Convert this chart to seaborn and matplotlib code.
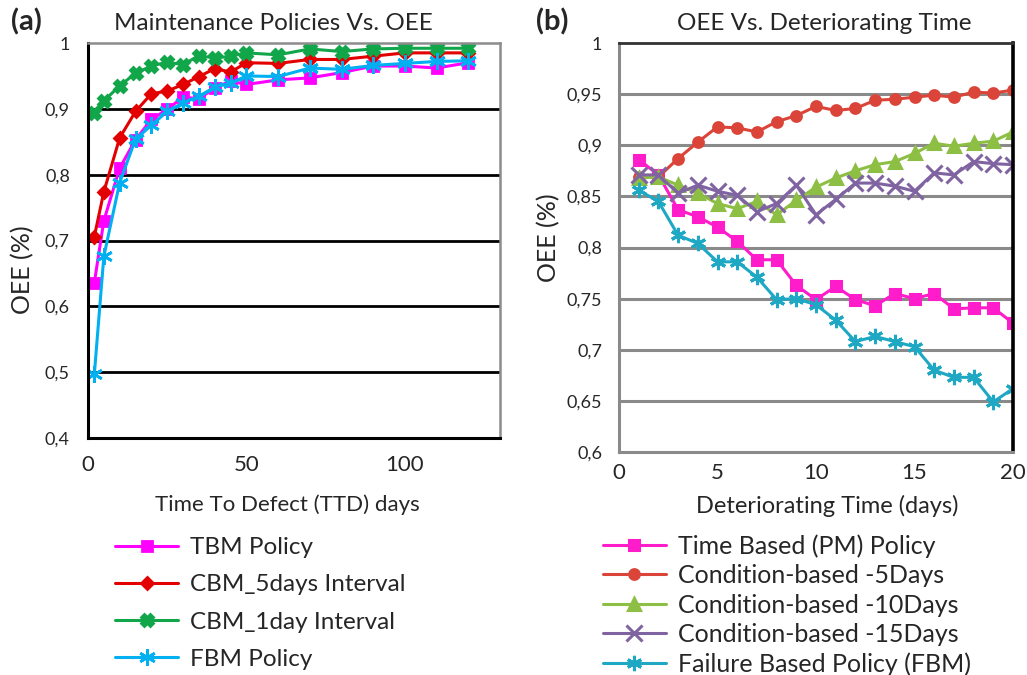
import matplotlib
matplotlib.use("Agg")
import matplotlib.pyplot as plt
import seaborn as sns
import pandas as pd

# ---------------- data ----------------
ttd_days = [2, 5, 10, 15, 20, 25, 30, 35, 40, 45, 50, 60, 70, 80, 90, 100, 110, 120]
tbm_policy = [0.636, 0.730, 0.810, 0.853, 0.884, 0.899, 0.918, 0.915, 0.932, 0.942,
              0.937, 0.944, 0.947, 0.955, 0.965, 0.965, 0.962, 0.970]
cbm_5days = [0.706, 0.774, 0.856, 0.896, 0.923, 0.927, 0.937, 0.949, 0.961, 0.956,
             0.970, 0.969, 0.975, 0.975, 0.980, 0.985, 0.985, 0.985]
cbm_1day = [0.894, 0.912, 0.935, 0.954, 0.965, 0.971, 0.967, 0.981, 0.977, 0.980,
            0.985, 0.982, 0.991, 0.987, 0.991, 0.992, 0.992, 0.992]
fbm_policy = [0.497, 0.676, 0.788, 0.854, 0.875, 0.896, 0.909, 0.919, 0.933, 0.939,
              0.950, 0.949, 0.962, 0.960, 0.966, 0.969, 0.972, 0.973]

det_days = list(range(1, 21))
time_based = [0.886, 0.871, 0.837, 0.830, 0.820, 0.806, 0.788, 0.788, 0.763, 0.749,
              0.762, 0.749, 0.743, 0.755, 0.750, 0.755, 0.740, 0.741, 0.741, 0.726]
cond_5 = [0.869, 0.869, 0.887, 0.903, 0.918, 0.917, 0.913, 0.923, 0.929, 0.938,
          0.934, 0.936, 0.944, 0.945, 0.947, 0.949, 0.947, 0.952, 0.951, 0.954]
cond_10 = [0.868, 0.869, 0.861, 0.853, 0.843, 0.838, 0.845, 0.832, 0.846, 0.859,
           0.868, 0.875, 0.881, 0.884, 0.892, 0.902, 0.899, 0.902, 0.904, 0.913]
cond_15 = [0.871, 0.871, 0.853, 0.861, 0.855, 0.851, 0.835, 0.843, 0.861, 0.832,
           0.847, 0.863, 0.863, 0.860, 0.855, 0.873, 0.871, 0.884, 0.882, 0.881]
failure_based = [0.856, 0.845, 0.812, 0.804, 0.786, 0.786, 0.771, 0.749, 0.750, 0.744,
                 0.729, 0.708, 0.713, 0.708, 0.703, 0.680, 0.673, 0.673, 0.649, 0.662]

left_labels = ["TBM Policy", "CBM_5days Interval", "CBM_1day Interval", "FBM Policy"]
right_labels = ["Time Based (PM) Policy", "Condition-based -5Days", "Condition-based -10Days",
                "Condition-based -15Days", "Failure Based Policy (FBM)"]
left_yticks = [0.4, 0.5, 0.6, 0.7, 0.8, 0.9, 1.0]
left_yticklabels = ["0,4", "0,5", "0,6", "0,7", "0,8", "0,9", "1"]
right_yticks = [0.6, 0.65, 0.7, 0.75, 0.8, 0.85, 0.9, 0.95, 1.0]
right_yticklabels = ["0,6", "0,65", "0,7", "0,75", "0,8", "0,85", "0,9", "0,95", "1"]

# ---------------- style ----------------
sns.set_style("white")
plt.rcParams["font.family"] = ["Lato", "DejaVu Sans"]

W, H = 1027, 675
fig = plt.figure(figsize=(W / 100, H / 100), dpi=100)
axL = fig.add_axes([88 / W, 1 - 438 / H, 412 / W, 395 / H])
axR = fig.add_axes([619 / W, 1 - 452 / H, 394 / W, 409 / H])

star = (6, 2, 0)

left_specs = [
    (tbm_policy, "#FF00FF", "s", 6.5),
    (cbm_5days, "#E30000", "D", 6.5),
    (cbm_1day, "#12A64A", "X", 8.5),
    (fbm_policy, "#00B0F0", star, 12),
]
for (vals, col, mk, ms), lab in zip(left_specs, left_labels):
    df = pd.DataFrame({"x": ttd_days, "y": vals})
    sns.lineplot(data=df, x="x", y="y", ax=axL, color=col, marker=mk, markersize=ms,
                 markeredgecolor=col, markeredgewidth=2, linewidth=2.2, label=lab,
                 legend=False)

right_specs = [
    (time_based, "#FF1CCB", "s", 7),
    (cond_5, "#DB4438", "o", 7),
    (cond_10, "#8DBF45", "^", 9),
    (cond_15, "#8064A2", "x", 11),
    (failure_based, "#1FA8C4", star, 11),
]
for (vals, col, mk, ms), lab in zip(right_specs, right_labels):
    df = pd.DataFrame({"x": det_days, "y": vals})
    sns.lineplot(data=df, x="x", y="y", ax=axR, color=col, marker=mk, markersize=ms,
                 markeredgecolor=col, markeredgewidth=2.2, linewidth=2.2, label=lab,
                 legend=False)

# ---- left axes formatting ----
axL.set_xlim(0, 130)
axL.set_ylim(0.4, 1.0)
axL.set_xticks([0, 50, 100])
axL.set_xticklabels(["0", "50", "100"], fontsize=16)
axL.set_yticks(left_yticks)
axL.set_yticklabels(left_yticklabels, fontsize=13)
for y in left_yticks[1:-1]:
    axL.axhline(y, color="black", linewidth=2.0, zorder=0.5)
axL.spines["left"].set_color("black")
axL.spines["left"].set_linewidth(2.2)
axL.spines["bottom"].set_color("black")
axL.spines["bottom"].set_linewidth(2.2)
axL.spines["top"].set_color("#8c8c8c")
axL.spines["top"].set_linewidth(1.8)
axL.spines["right"].set_color("#8c8c8c")
axL.spines["right"].set_linewidth(1.8)
axL.tick_params(axis="both", direction="out", length=4, width=2, color="black")
axL.tick_params(axis="y", pad=9)
axL.tick_params(axis="x", pad=8)
axL.set_xlabel("Time To Defect (TTD) days", fontsize=16)
axL.xaxis.set_label_coords((287 - 88) / 412, (438 - 494) / 395)
axL.set_ylabel("OEE (%)", fontsize=18)
axL.yaxis.set_label_coords((34 - 88) / 412, (438 - 270) / 395)

# ---- right axes formatting ----
axR.set_xlim(0, 20)
axR.set_ylim(0.6, 1.0)
axR.set_xticks([0, 5, 10, 15, 20])
axR.set_xticklabels(["0", "5", "10", "15", "20"], fontsize=16)
axR.set_yticks(right_yticks)
axR.set_yticklabels(right_yticklabels, fontsize=13)
for y in right_yticks[1:-1]:
    axR.axhline(y, color="#8a8a8a", linewidth=2.2, zorder=0.5)
axR.spines["left"].set_color("#8a8a8a")
axR.spines["left"].set_linewidth(2.2)
axR.spines["bottom"].set_color("#8a8a8a")
axR.spines["bottom"].set_linewidth(2.2)
axR.spines["top"].set_color("#333333")
axR.spines["top"].set_linewidth(2.0)
axR.spines["right"].set_color("black")
axR.spines["right"].set_linewidth(2.6)
axR.tick_params(axis="both", length=0)
axR.tick_params(axis="y", pad=12)
axR.tick_params(axis="x", pad=8)
axR.set_xlabel("Deteriorating Time (days)", fontsize=17)
axR.xaxis.set_label_coords((827 - 619) / 394, (452 - 495) / 409)
axR.set_ylabel("OEE (%)", fontsize=18)
axR.yaxis.set_label_coords((560 - 619) / 394, (452 - 238) / 409)

# ---- titles and panel labels ----
fig.text(273 / W, 1 - 23 / H, "Maintenance Policies Vs. OEE", fontsize=17.5,
         ha="center", va="center")
fig.text(824 / W, 1 - 23 / H, "OEE Vs. Deteriorating Time", fontsize=17.5,
         ha="center", va="center")
fig.text(11 / W, 1 - 22 / H, "(a)", fontsize=21, fontweight="bold", ha="left", va="center")
fig.text(536 / W, 1 - 22 / H, "(b)", fontsize=21, fontweight="bold", ha="left", va="center")

# ---- legends ----
hL, lL = axL.get_legend_handles_labels()
fig.legend(hL, lL, loc="upper left", bbox_to_anchor=(115 / W, 1 - 537 / H),
           frameon=False, fontsize=17.5, handlelength=2.6, handletextpad=0.5,
           labelspacing=0.67, borderpad=0, borderaxespad=0)
hR, lR = axR.get_legend_handles_labels()
fig.legend(hR, lR, loc="upper left", bbox_to_anchor=(603 / W, 1 - 534 / H),
           frameon=False, fontsize=18, handlelength=2.5, handletextpad=0.5,
           labelspacing=0.26, borderpad=0, borderaxespad=0)

fig.savefig("out.png", dpi=100)
